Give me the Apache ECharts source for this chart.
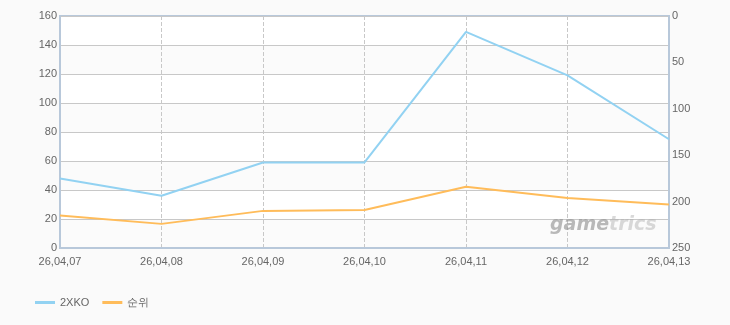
<!DOCTYPE html>
<html><head><meta charset="utf-8">
<script src="https://cdn.jsdelivr.net/npm/echarts@6/dist/echarts.min.js"></script>
<style>html,body{margin:0;padding:0;background:#fafafa;}#c{width:730px;height:325px;}</style>
</head><body><div id="c"></div>
<script>
var categories = ['26,04,07','26,04,08','26,04,09','26,04,10','26,04,11','26,04,12','26,04,13'];
var seriesViewers = [48, 36, 59, 59, 149, 119, 75];
var seriesRank = [215, 224, 210, 209, 184, 196, 203];
var leftTicks = {min:0, max:160, interval:20};
var rightTicks = {min:0, max:250, interval:50};

var chart = echarts.init(document.getElementById('c'), null, {renderer:'canvas'});
var font = '"Liberation Sans", Arial, sans-serif';
chart.setOption({
  backgroundColor:'#fafafa',
  animation:false,
  textStyle:{fontFamily:font},
  grid:{left:60, right:61, top:16, bottom:77, show:true, borderColor:'#b8c8da', borderWidth:2, backgroundColor:'#fff'},
  legend:{left:30, top:292, itemWidth:20, itemHeight:3, itemGap:13, icon:'rect',
    textStyle:{color:'#666', fontSize:11, fontFamily:font},
    data:[{name:'2XKO'},{name:'순위'}]},
  xAxis:{type:'category', data:categories, boundaryGap:false,
    axisLine:{show:true, lineStyle:{color:'#b8c8da', width:2}},
    axisTick:{show:false},
    axisLabel:{color:'#666', fontSize:11, margin:8, fontFamily:font},
    splitLine:{show:true, lineStyle:{color:'#c8c8c8', type:'dashed', width:1}}},
  yAxis:[
    {type:'value', min:leftTicks.min, max:leftTicks.max, interval:leftTicks.interval, position:'left',
     axisLine:{show:true, lineStyle:{color:'#b8c8da', width:2}}, axisTick:{show:false},
     axisLabel:{color:'#666', fontSize:11, margin:3, fontFamily:font},
     splitLine:{show:true, lineStyle:{color:'#c8c8c8', width:1}},
     splitArea:{show:true, areaStyle:{color:['#fbfbfb','#ffffff']}}},
    {type:'value', min:rightTicks.min, max:rightTicks.max, interval:rightTicks.interval, position:'right', inverse:true,
     axisLine:{show:true, lineStyle:{color:'#b8c8da', width:2}}, axisTick:{show:false},
     axisLabel:{color:'#666', fontSize:11, margin:3, fontFamily:font},
     splitLine:{show:false}}
  ],
  graphic:[{type:'text', left:550, top:216, z:100, silent:true,
    style:{text:'{a|game}{b|trics}', fontFamily:'"DejaVu Sans", sans-serif',
      rich:{a:{fontSize:19, fontWeight:'bold', fontStyle:'italic', fill:'rgba(140,140,140,0.6)', fontFamily:'"DejaVu Sans", sans-serif'},
            b:{fontSize:19, fontWeight:'bold', fontStyle:'italic', fill:'rgba(170,170,170,0.45)', fontFamily:'"DejaVu Sans", sans-serif'}}}}],
  series:[
    {name:'2XKO', type:'line', yAxisIndex:0, data:seriesViewers, showSymbol:false, symbol:'none',
     lineStyle:{color:'#92d2f2', width:2}, itemStyle:{color:'#92d2f2'}},
    {name:'순위', type:'line', yAxisIndex:1, data:seriesRank, showSymbol:false, symbol:'none',
     lineStyle:{color:'#ffbc5a', width:2}, itemStyle:{color:'#ffbc5a'}}
  ]
});
</script></body></html>
